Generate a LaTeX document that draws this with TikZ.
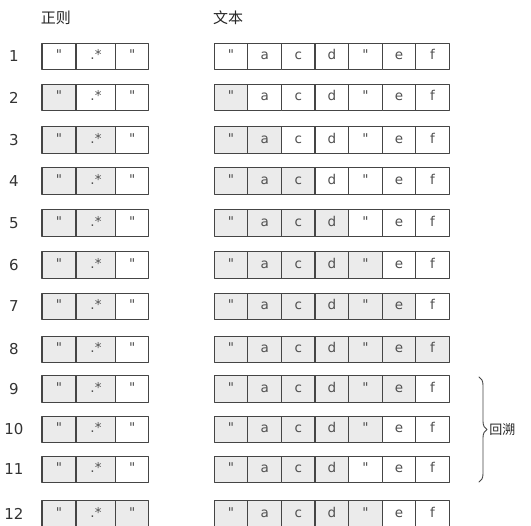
\documentclass[tikz,border=0pt]{standalone}
\usepackage{fontspec}
\setmainfont{DejaVu Sans}
\newfontfamily\cjk{Noto Sans CJK SC}
\usetikzlibrary{decorations.pathreplacing}
\definecolor{cellgray}{HTML}{EBEBEB}
\definecolor{linegray}{HTML}{454545}
\definecolor{txtgray}{HTML}{505050}
\tikzset{
  cell/.style={draw=linegray, line width=1.1pt, minimum height=26.5pt, inner sep=0pt,
    text height=9pt, text depth=2.5pt, text=txtgray, font=\fontsize{13.5}{13.5}\selectfont},
  rownum/.style={text=black!80, font=\fontsize{15}{15}\selectfont},
  head/.style={text=black!85, font=\cjk\fontsize{15}{15}\selectfont}
}
\begin{document}
\begin{tikzpicture}[x=1pt, y=-1pt, line join=round, line cap=round]
  \useasboundingbox (0,0) rectangle (531,526);
  \def\q{\textquotedbl} \def\tw{33.57} \def\tx{214.3} % Zellen
  \node[head] (hre) at (56,18) {正则};
  \node[head] (htx) at (228,18) {文本};
  % y / Nummer / grau (Regex) / grau (Text)
  \foreach \y/\n/\r/\t in {56.5/1/0/0, 97.5/2/1/1, 140/3/2/2, 181/4/2/3, 223/5/2/4, 265/6/2/5,
      306.5/7/2/6, 349.5/8/2/7, 389/9/2/6, 429.5/10/2/5, 469.5/11/2/4, 514/12/3/5}{
    \node[rownum] (num\n) at (14,\y) {\n};
    \foreach \s/\cx/\w [count=\j] in {\q/59/34, .*/96/40, \q/132.3/33}{
      \ifnum\j>\r \def\fc{white}\else\def\fc{cellgray}\fi
      \node[cell, fill=\fc, minimum width=\w pt] (re\n-\j) at (\cx,\y) {\s};
    }
    \foreach \s [count=\j] in {\q,a,c,d,\q,e,f}{
      \ifnum\j>\t \def\fc{white}\else\def\fc{cellgray}\fi
      \node[cell, fill=\fc, minimum width=\tw pt] (tx\n-\j) at (\tx+\tw*\j-\tw/2,\y) {\s};
    }
  }
  \coordinate (btop) at (479,377);
  \coordinate (bbot) at (479,482);
  \draw[linegray, line width=0.9pt, decorate, decoration={brace, amplitude=8pt}] (btop) -- (bbot)
    node[midway, right=9pt, head, font=\cjk\fontsize{13}{13}\selectfont, inner sep=1pt] (back) {回溯};
\end{tikzpicture}
\end{document}
